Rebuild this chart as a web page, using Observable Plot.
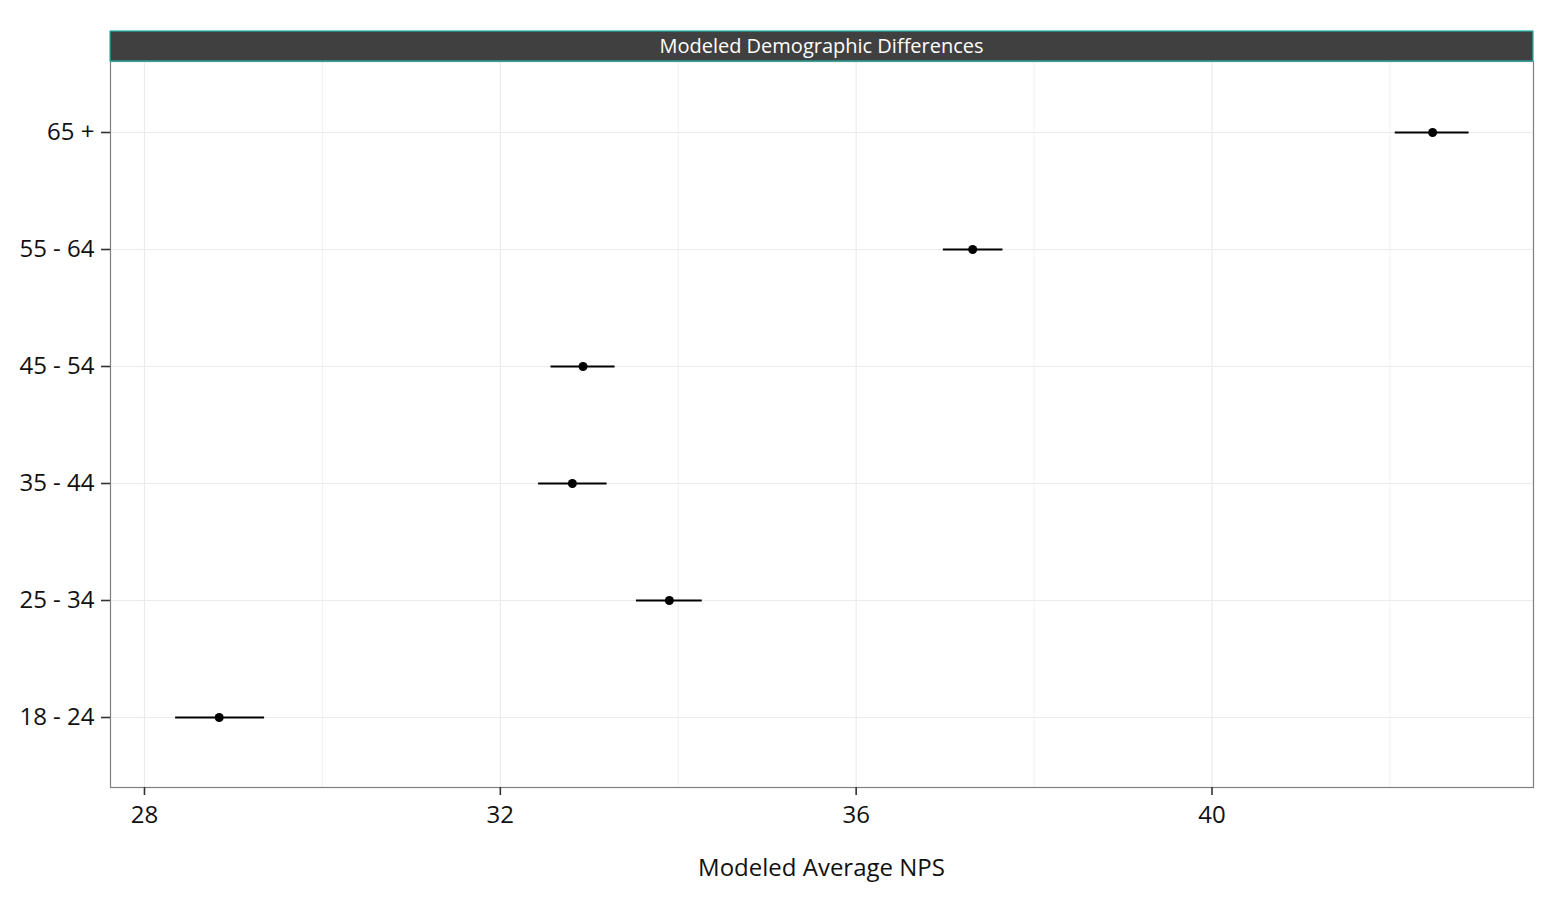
<!DOCTYPE html>
<html>
<head>
<meta charset="utf-8">
<script src="https://cdn.jsdelivr.net/npm/d3@7"></script>
<script src="https://cdn.jsdelivr.net/npm/@observablehq/plot@0.6"></script>
<style>
  html, body { margin: 0; padding: 0; background: #fff; }
  #chart { width: 1565px; height: 900px; }
</style>
</head>
<body>
<div id="chart"></div>
<script>
const groups = ["18 - 24", "25 - 34", "35 - 44", "45 - 54", "55 - 64", "65 +"];
const estimate = [28.84, 33.90, 32.81, 32.93, 37.31, 42.48];
const lower = [28.35, 33.53, 32.43, 32.57, 36.98, 42.06];
const upper = [29.35, 34.27, 33.20, 33.29, 37.65, 42.89];
const majorTicks = [28, 32, 36, 40];
const minorTicks = [30, 34, 38, 42];
const stripTitle = "Modeled Demographic Differences";
const xTitle = "Modeled Average NPS";

const data = groups.map((g, i) => ({group: g, est: estimate[i], lo: lower[i], hi: upper[i]}));

const font = "Open Sans, Noto Sans, sans-serif";
const W = 1565, H = 900;
const mL = 110, mR = 32, mT = 61, mB = 113;

const plot = Plot.plot({
  width: W,
  height: H,
  marginLeft: mL,
  marginRight: mR,
  marginTop: mT,
  marginBottom: mB,
  style: {fontFamily: font, background: "#fff", color: "#111"},
  x: {domain: [27.618, 43.614], label: null},
  y: {domain: groups.slice().reverse(), type: "point", padding: 0.6, label: null},
  marks: [
    Plot.gridX(minorTicks, {stroke: "#ebebeb", strokeOpacity: 1, strokeWidth: 0.7}),
    Plot.gridX(majorTicks, {stroke: "#ebebeb", strokeOpacity: 1, strokeWidth: 1.2}),
    Plot.gridY(groups, {stroke: "#ebebeb", strokeOpacity: 1, strokeWidth: 1.2}),
    Plot.ruleY(data, {y: "group", x1: "lo", x2: "hi", stroke: "#000", strokeWidth: 2}),
    Plot.dot(data, {x: "est", y: "group", r: 4.5, fill: "#000", stroke: "none"}),
    Plot.frame({stroke: "#7f7f7f", strokeWidth: 1.2}),
    Plot.axisX(majorTicks, {tickSize: 8, tickPadding: 10, fontSize: 24, stroke: "#333", strokeWidth: 1.6, fill: "#111", label: null}),
    Plot.axisY(groups, {tickSize: 9, tickPadding: 7, fontSize: 24, stroke: "#333", strokeWidth: 1.6, fill: "#111", label: null})
  ]
});

const svg = d3.select(plot);
// x axis title
svg.append("text")
  .attr("x", mL + (W - mL - mR) / 2)
  .attr("y", 876)
  .attr("text-anchor", "middle")
  .attr("font-family", font)
  .attr("font-size", 24)
  .attr("fill", "#111")
  .text(xTitle);
// facet strip
svg.append("rect")
  .attr("x", mL)
  .attr("y", 31)
  .attr("width", W - mL - mR)
  .attr("height", mT - 31)
  .attr("fill", "#404040")
  .attr("stroke", "#20b2aa")
  .attr("stroke-width", 1.2);
svg.append("text")
  .attr("x", mL + (W - mL - mR) / 2)
  .attr("y", 46)
  .attr("dy", "0.35em")
  .attr("text-anchor", "middle")
  .attr("font-family", font)
  .attr("font-size", 20)
  .attr("fill", "#fff")
  .text(stripTitle);

document.getElementById("chart").appendChild(plot);
</script>
</body>
</html>
